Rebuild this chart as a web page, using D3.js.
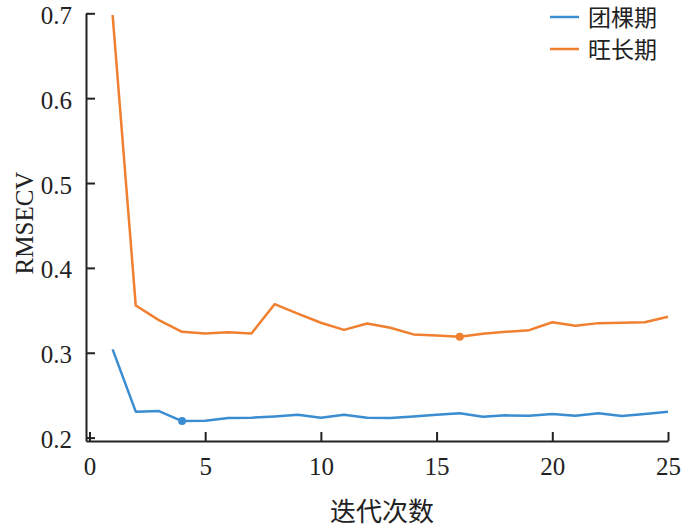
<!DOCTYPE html>
<html>
<head>
<meta charset="utf-8">
<script src="https://cdn.jsdelivr.net/npm/d3@7"></script>
<style>
  body { margin: 0; background: #fff; }
  svg { display: block; }
  .axis path, .axis line { stroke: #222; stroke-width: 2; }
</style>
</head>
<body>
<svg id="chart" width="699" height="528"></svg>
<script>
// iteration numbers and RMSECV per growth stage
var iters = d3.range(1, 26);
var seriesNames = ["团棵期", "旺长期"];
var tuanke = [0.304, 0.2306, 0.2313, 0.2195, 0.220, 0.223, 0.2235, 0.225, 0.227, 0.2235,
              0.227, 0.2235, 0.223, 0.225, 0.227, 0.2286, 0.2247, 0.2262, 0.2258, 0.2278,
              0.2258, 0.2286, 0.2254, 0.2278, 0.2306];
var wangzhang = [0.698, 0.3556, 0.3384, 0.3247, 0.3227, 0.3242, 0.3227, 0.3572, 0.346, 0.3353,
                 0.327, 0.3345, 0.3294, 0.3216, 0.3204, 0.3188, 0.3224, 0.3247, 0.3266, 0.336,
                 0.3318, 0.3349, 0.3353, 0.336, 0.3424];
var xTicks = [0, 5, 10, 15, 20, 25];
var yTicks = [0.2, 0.3, 0.4, 0.5, 0.6, 0.7];
var colors = ["#3a8dd0", "#f07f2f"];

var svg = d3.select("#chart");

var x = d3.scaleLinear().domain([-0.15, 25]).range([86, 668]);
var y = d3.scaleLinear().domain([0.196, 0.7]).range([441, 13.3]);

function serifText(sel)
{
    sel.attr("font-family", null)
       .style("font-family", "'Liberation Serif', 'DejaVu Serif', serif")
       .style("font-size", "25px")
       .style("fill", "#222");
}

// axes, ticks point inward
var xAxisG = svg.append("g")
    .attr("class", "axis")
    .attr("transform", "translate(0,441)")
    .call(d3.axisBottom(x).tickValues(xTicks).tickFormat(d3.format("d"))
        .tickSizeInner(-9).tickSizeOuter(0).tickPadding(16));
xAxisG.attr("font-family", null).attr("font-size", null);
xAxisG.selectAll("text").call(serifText);

var yAxisG = svg.append("g")
    .attr("class", "axis")
    .attr("transform", "translate(86,0)")
    .call(d3.axisLeft(y).tickValues(yTicks).tickFormat(d3.format(".1f"))
        .tickSizeInner(-9).tickSizeOuter(0).tickPadding(14));
yAxisG.attr("font-family", null).attr("font-size", null);
yAxisG.selectAll("text").attr("dy", "0.4em").call(serifText);

// axis titles
svg.append("text")
    .attr("transform", "translate(33,223) rotate(-90)")
    .attr("text-anchor", "middle")
    .call(serifText)
    .text("RMSECV");

svg.append("text")
    .attr("x", 382)
    .attr("y", 521)
    .attr("text-anchor", "middle")
    .style("font-family", "'Noto Sans CJK SC', sans-serif")
    .style("font-size", "26px")
    .style("fill", "#222")
    .text("迭代次数");

// lines
var line = d3.line()
    .x(function(d, i) { return x(iters[i]); })
    .y(function(d) { return y(d); });

[tuanke, wangzhang].forEach(function(vals, k)
{
    svg.append("path")
        .datum(vals)
        .attr("fill", "none")
        .attr("stroke", colors[k])
        .attr("stroke-width", 2.5)
        .attr("stroke-linejoin", "round")
        .attr("d", line);

    // mark the minimum
    var mi = d3.minIndex(vals);
    svg.append("circle")
        .attr("cx", x(iters[mi]))
        .attr("cy", y(vals[mi]))
        .attr("r", 4)
        .attr("fill", colors[k]);
});

// legend
var legend = svg.append("g");
seriesNames.forEach(function(name, k)
{
    var ly = 17 + k * 32;
    legend.append("line")
        .attr("x1", 550).attr("x2", 579)
        .attr("y1", ly).attr("y2", ly)
        .attr("stroke", colors[k])
        .attr("stroke-width", 2.5);
    legend.append("text")
        .attr("x", 588)
        .attr("y", ly)
        .attr("dy", "0.4em")
        .style("font-family", "'Noto Sans CJK SC', sans-serif")
        .style("font-size", "23px")
        .style("fill", "#222")
        .text(name);
});
</script>
</body>
</html>
